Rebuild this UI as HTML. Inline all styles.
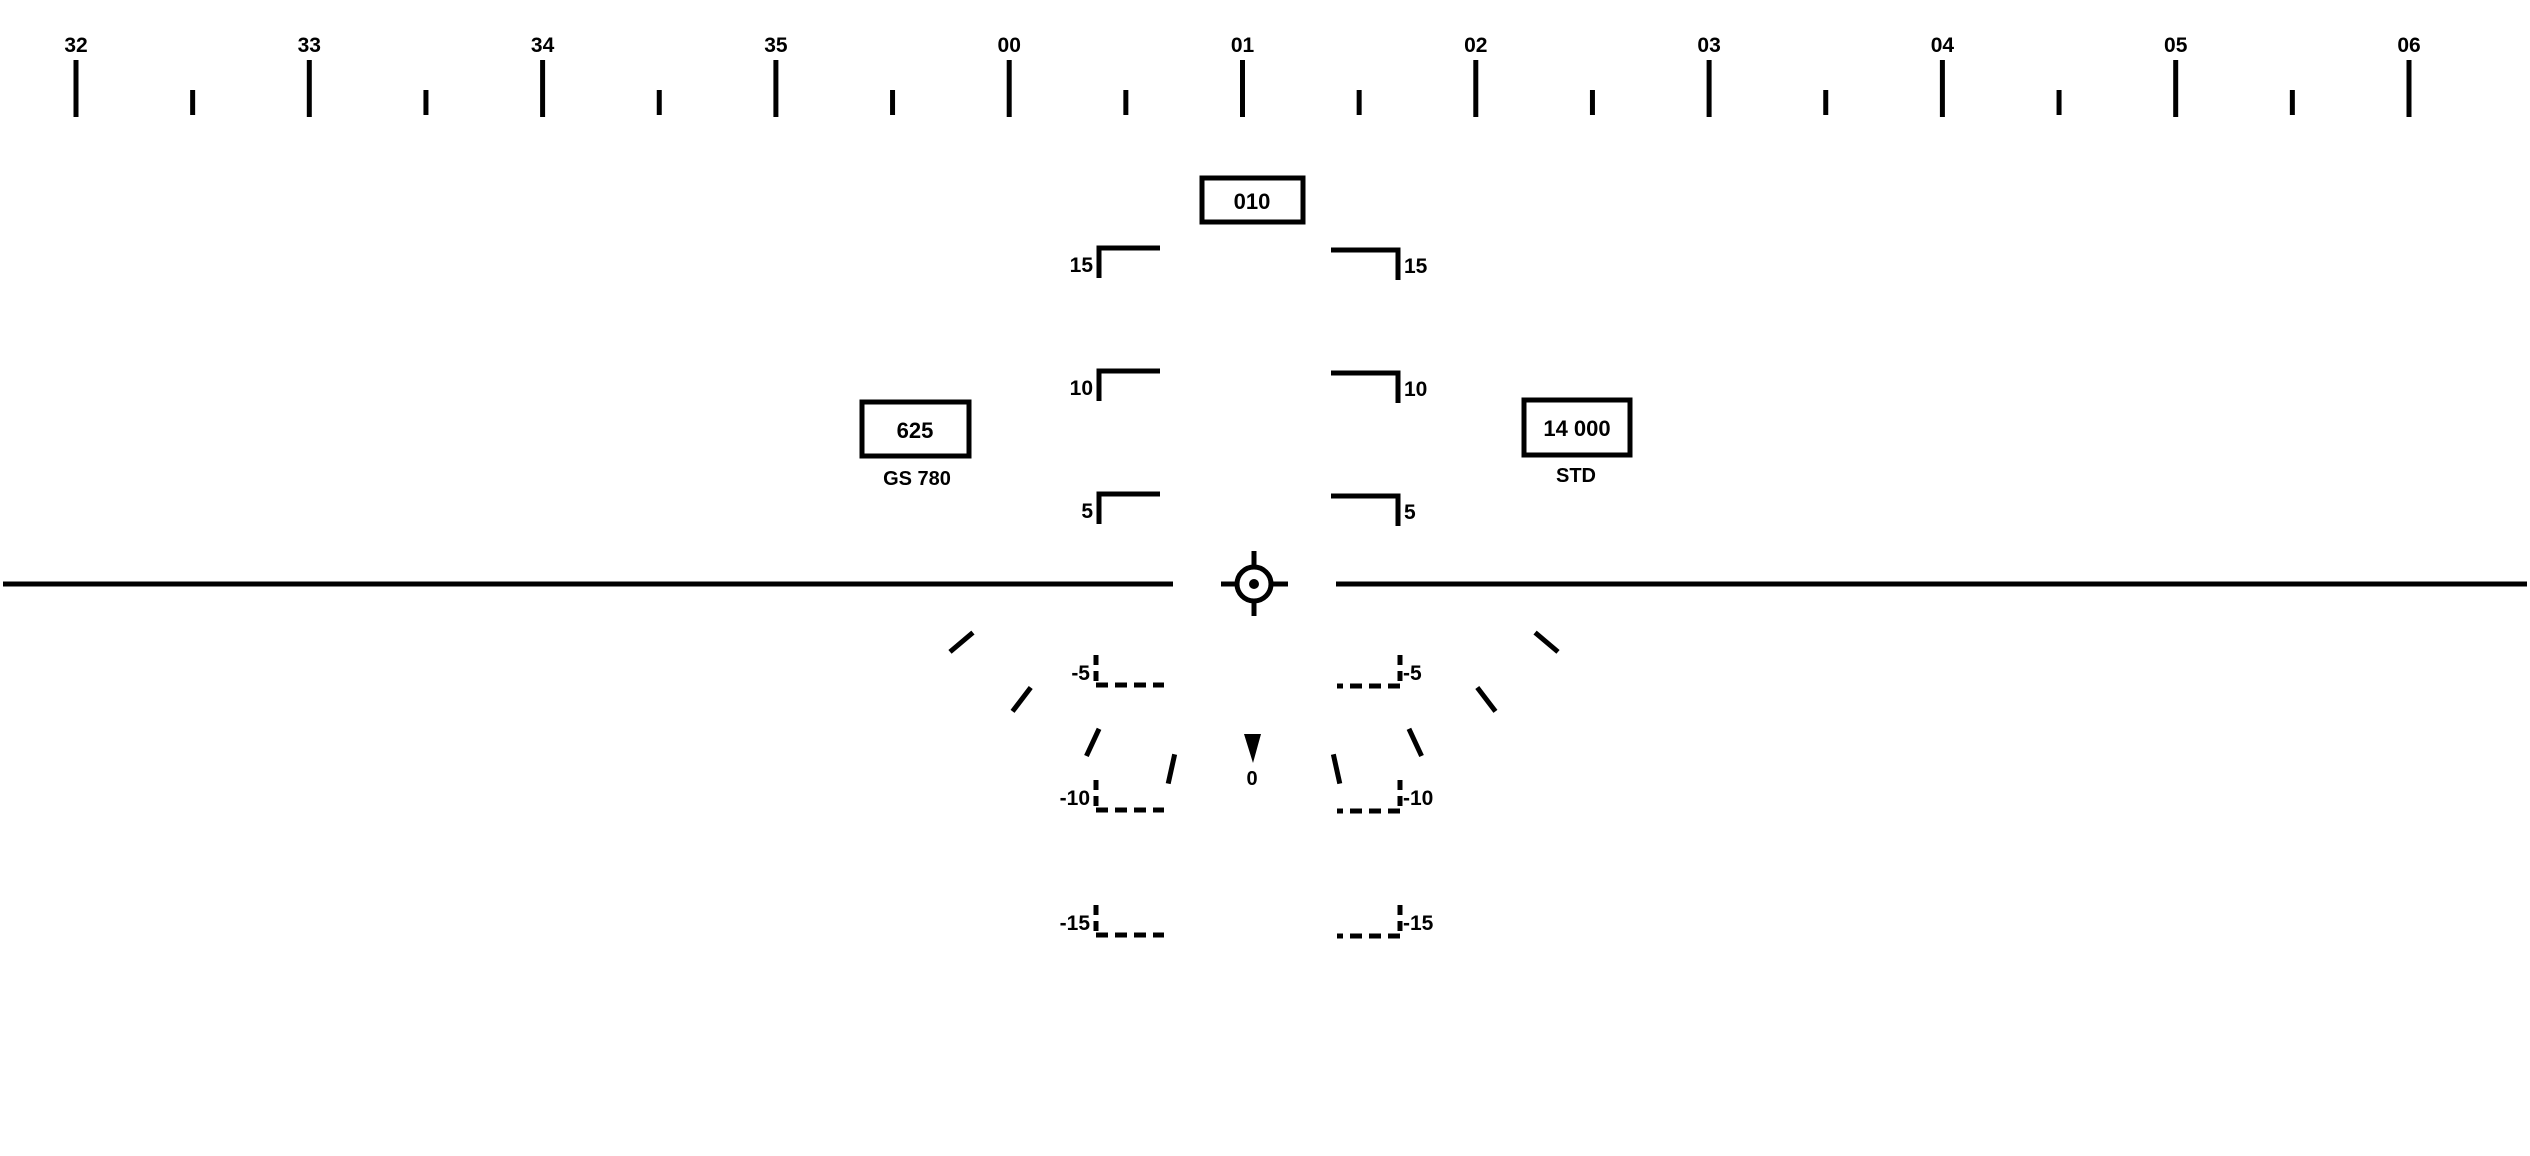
<!DOCTYPE html>
<html><head><meta charset="utf-8"><style>
html,body{margin:0;padding:0;background:#fff;}
svg{display:block;}
text{font-family:"Liberation Sans Narrow","Liberation Sans",sans-serif;font-weight:bold;fill:#000;}
</style></head><body>
<svg id="hud" width="2530" height="1156" viewBox="0 0 2530 1156" xmlns="http://www.w3.org/2000/svg">
<g id="heading-scale"></g>
<g id="ladder"></g>
<g id="bank"></g>

<g>
<rect x="1202" y="178" width="101" height="44" fill="none" stroke="#000" stroke-width="5"/>
<text x="1252" y="209" font-size="22" text-anchor="middle">010</text>
</g>
<g>
<rect x="862" y="402" width="107" height="54" fill="none" stroke="#000" stroke-width="5"/>
<text x="915" y="438" font-size="22" text-anchor="middle">625</text>
<text x="917" y="485" font-size="20" text-anchor="middle">GS 780</text>
</g>
<g>
<rect x="1524" y="400" width="106" height="55" fill="none" stroke="#000" stroke-width="5"/>
<text x="1577" y="436" font-size="22" text-anchor="middle">14 000</text>
<text x="1576" y="482" font-size="20" text-anchor="middle">STD</text>
</g>
<g stroke="#000" stroke-width="5">
<line x1="3" y1="584" x2="1173" y2="584"/>
<line x1="1336" y1="584" x2="2527" y2="584"/>
</g>
<g stroke="#000" stroke-width="5" fill="none">
<circle cx="1254" cy="584" r="17"/>
<line x1="1221" y1="584" x2="1237" y2="584"/>
<line x1="1271" y1="584" x2="1288" y2="584"/>
<line x1="1254" y1="551" x2="1254" y2="567"/>
<line x1="1254" y1="601" x2="1254" y2="616"/>
<circle cx="1254" cy="584" r="2.5" fill="#000"/>
</g>
<g>
<polygon points="1244,734 1261,734 1253,763" fill="#000"/>
<text x="1252" y="785" font-size="20" text-anchor="middle">0</text>
</g>
</svg>
<script>
const headingLabels = ["32","33","34","35","00","01","02","03","04","05","06"];
const headingValues = [32,33,34,35,36,37,38,39,40,41,42];
const pitchLevels = [15,10,5,-5,-10,-15];
const bankAngles = [-60,-45,-30,-15,15,30,45,60];

const NS = "http://www.w3.org/2000/svg";
function mk(tag, attrs, parent){const e=document.createElementNS(NS,tag);for(const k in attrs)e.setAttribute(k,attrs[k]);parent.appendChild(e);return e;}

// heading axis
const hx = v => 76 + (v-32)*233.3;
const hs = document.getElementById('heading-scale');
headingValues.forEach((v,i)=>{
  const x = hx(v);
  const t = mk('line',{x1:x,y1:60,x2:x,y2:117,stroke:'#000','stroke-width':5},hs);
  
  
  const l = mk('text',{x:x,y:52,'font-size':21,'text-anchor':'middle'},hs);
  l.textContent = headingLabels[i];
  
  
  if(i<headingValues.length-1){
    const mx = hx(v+0.5);
    const m = mk('line',{x1:mx,y1:90,x2:mx,y2:115,stroke:'#000','stroke-width':5},hs);
    
    
  }
});

// pitch ladder axis
const pyTop = p => 617 - p*24.6;
const pyBot = p => 560 + (-p)*25;
const ld = document.getElementById('ladder');
pitchLevels.forEach(p=>{
  const g = mk('g',{},ld);
  
  
  if(p>0){
    const yt = pyTop(p);
    mk('polyline',{points:`1160,${yt} 1099,${yt} 1099,${yt+30}`,fill:'none',stroke:'#000','stroke-width':5},g);
    mk('polyline',{points:`1331,${yt+2} 1398,${yt+2} 1398,${yt+32}`,fill:'none',stroke:'#000','stroke-width':5},g);
    const a = mk('text',{x:1093,y:yt+24,'font-size':21,'text-anchor':'end'},g); a.textContent=p;
    const b = mk('text',{x:1404,y:yt+25,'font-size':21},g); b.textContent=p;
  } else {
    const yb = pyBot(p);
    mk('line',{x1:1096,y1:yb-30,x2:1096,y2:yb,stroke:'#000','stroke-width':5,'stroke-dasharray':'10 6'},g);
    mk('line',{x1:1096,y1:yb,x2:1164,y2:yb,stroke:'#000','stroke-width':5,'stroke-dasharray':'12 7'},g);
    mk('line',{x1:1400,y1:yb-30,x2:1400,y2:yb+1,stroke:'#000','stroke-width':5,'stroke-dasharray':'10 6'},g);
    mk('line',{x1:1400,y1:yb+1,x2:1337,y2:yb+1,stroke:'#000','stroke-width':5,'stroke-dasharray':'12 7'},g);
    const a = mk('text',{x:1090,y:yb-5,'font-size':21,'text-anchor':'end'},g); a.textContent=p;
    const b = mk('text',{x:1403,y:yb-5,'font-size':21},g); b.textContent=p;
  }
});

// bank scale: radial ticks on a circle centred above the flight path marker
const bk = document.getElementById('bank');
const bcx = 1254, bcy = 395, rIn = 368, rOut = 398;
const bankT = a => a*0.83*Math.PI/180;
bankAngles.forEach(a=>{
  const t = bankT(a);
  const s = Math.sin(t), c = Math.cos(t);
  const l = mk('line',{x1:bcx+rIn*s,y1:bcy+rIn*c,x2:bcx+rOut*s,y2:bcy+rOut*c,stroke:'#000','stroke-width':5},bk);
  
  
});
</script>
</body></html>
